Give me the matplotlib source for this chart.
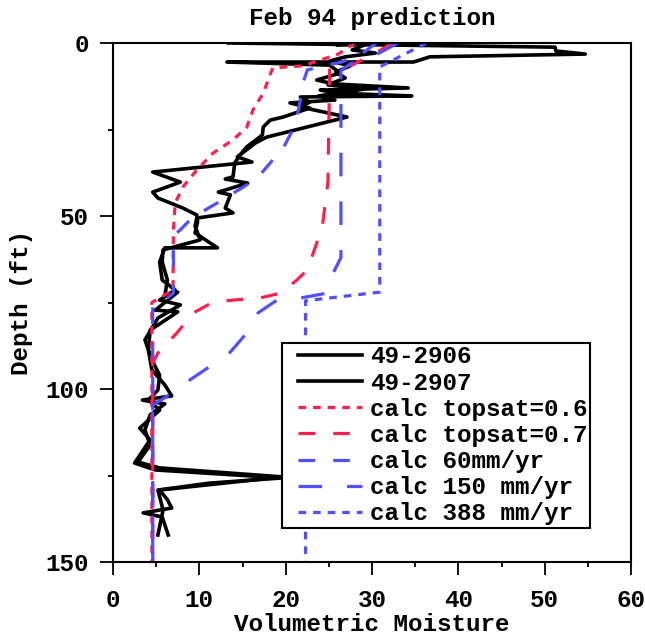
import matplotlib
matplotlib.use("Agg")
import matplotlib.pyplot as plt
from matplotlib.ticker import MultipleLocator
from matplotlib.lines import Line2D
from matplotlib.legend_handler import HandlerLine2D

plt.rcParams['font.family'] = ['Liberation Mono', 'DejaVu Sans Mono']
plt.rcParams['font.weight'] = 'bold'
plt.rcParams['lines.scale_dashes'] = False

red = '#ff1f4c'
blue = '#5050ff'

# measured profiles (moisture, depth ft)
m2906 = [13.4, 51.2, 51.3, 54.7, 36.7, 34.8, 13.2, 25.1, 26.3, 23.6, 25.5, 34.2, 24.0, 26.0,
         34.6, 21.7, 22.8, 21.7, 27.1, 17.8, 16.5, 14.4, 16.1, 4.6, 7.8, 4.6, 5.2, 8.1, 9.7,
         9.8, 9.5, 12.1, 6.0, 5.4, 5.7, 7.2, 5.4, 7.8, 5.2, 3.7, 4.5, 5.4, 5.2, 4.1, 5.4,
         3.1, 4.3, 2.5, 4.9, 19.6, 11.2, 5.2, 5.8, 5.2]
d2906 = [0.0, 1.2, 2.3, 3.2, 4.0, 5.5, 5.5, 6.4, 8.7, 10.7, 11.8, 13.0, 13.6, 14.5,
         15.3, 15.6, 17.1, 18.5, 21.4, 27.2, 28.9, 32.9, 34.4, 37.3, 40.2, 43.1, 44.8, 47.7, 49.7,
         51.7, 54.9, 59.2, 59.2, 63.3, 68.5, 71.4, 74.3, 75.7, 79.5, 85.8, 91.6, 96.0, 100.3, 103.2, 106.1,
         111.3, 114.7, 121.4, 123.4, 125.7, 127.2, 129.2, 135.0, 142.2]

m2907 = [26.0, 29.4, 27.7, 30.4, 26.9, 25.1, 27.5, 25.8, 26.9, 24.9, 29.2, 23.8, 25.7, 20.5,
         22.8, 19.7, 18.2, 17.4, 17.3, 15.5, 14.7, 14.1, 13.9, 13.0, 15.6, 12.2, 13.6, 13.0,
         13.9, 9.7, 9.5, 10.1, 5.8, 5.7, 6.3, 6.0, 7.5, 4.9, 7.5, 4.3, 4.1, 4.5, 6.0, 6.8,
         3.4, 6.0, 4.3, 3.7, 4.3, 2.9, 5.4, 19.6, 5.4, 6.3, 6.8, 3.5, 5.7, 6.4]
d2907 = [0.6, 0.3, 2.0, 2.9, 4.0, 5.2, 6.6, 8.4, 10.1, 12.1, 13.3, 15.3, 16.5, 17.3,
         18.8, 21.4, 22.3, 24.3, 26.6, 30.0, 32.4, 34.7, 38.7, 39.3, 40.5, 43.1, 43.9, 47.7,
         49.1, 50.6, 52.9, 56.9, 59.8, 63.3, 68.5, 73.1, 72.0, 77.2, 77.7, 83.0, 88.7, 94.5, 98.8, 102.0,
         103.2, 104.3, 107.5, 111.8, 116.2, 121.1, 122.8, 125.4, 129.2, 132.0, 134.4, 135.8, 137.0, 142.2]

# calculated profiles
m_top06 = [28.0, 26.1, 22.0, 18.5, 17.4, 16.2, 15.5, 13.9, 11.6, 9.7, 8.1, 7.2, 7.0, 6.95, 4.5, 4.5]
d_top06 = [0.0, 3.2, 6.6, 7.2, 14.5, 19.4, 24.3, 28.0, 31.8, 36.7, 41.6, 46.2, 54.0, 71.4, 75.0, 150.0]

m_top07 = [32.4, 30.6, 27.7, 25.1, 24.9, 24.3, 24.0, 22.5, 21.3, 19.4, 17.0, 13.9, 11.6, 9.3, 7.4, 5.2, 4.6, 4.6]
d_top07 = [0.0, 2.6, 6.4, 7.2, 40.0, 52.0, 55.0, 65.6, 68.5, 72.3, 73.7, 74.3, 74.9, 78.0, 83.8, 89.6, 92.5, 150.0]

m_60 = [30.5, 28.6, 26.5, 24.8, 22.5, 22.0, 21.7, 21.3, 20.7, 19.6, 18.5, 17.0, 15.5, 13.6, 12.1,
        10.1, 8.7, 8.0, 7.4, 7.0, 7.0, 6.3, 4.6, 4.6]
d_60 = [0.0, 3.5, 5.5, 6.4, 7.8, 11.6, 16.5, 21.4, 25.7, 30.9, 33.8, 38.2, 41.0, 43.9, 46.2,
        49.1, 51.7, 53.5, 54.9, 58.4, 72.3, 73.7, 75.7, 150.0]

m_150 = [33.0, 30.0, 27.5, 26.4, 26.4, 25.5, 24.8, 21.7, 19.0, 16.8, 15.5, 13.6, 11.5, 8.9, 7.0, 4.6, 4.6]
d_150 = [0.0, 4.0, 6.0, 8.0, 62.0, 66.5, 72.3, 73.7, 74.3, 78.0, 83.8, 89.3, 93.0, 97.4, 101.0, 104.6, 150.0]

m_388 = [36.3, 30.9, 30.9, 22.3, 22.3]
d_388 = [0.0, 6.9, 72.0, 74.5, 150.0]

fs = 17.5

fig = plt.figure(figsize=(6.45, 6.42), dpi=100)
ax = fig.add_axes([113/645, 1 - 562/642, 518/645, 519/642])

ax.plot(m2906, d2906, color='black', lw=2.6, label='49-2906')
ax.plot(m2907, d2907, color='black', lw=2.6, label='49-2907')
ax.plot(m_top06, d_top06, color=red, lw=2.3, dashes=(5.5, 5), label='calc topsat=0.6')
ax.plot(m_top07, d_top07, color=red, lw=2.3, dashes=(12, 13), label='calc topsat=0.7')
ax.plot(m_60, d_60, color=blue, lw=2.3, dashes=(12, 13), label='calc 60mm/yr')
ax.plot(m_150, d_150, color=blue, lw=2.3, dashes=(17, 18), label='calc 150 mm/yr')
ax.plot(m_388, d_388, color=blue, lw=2.3, dashes=(5.5, 5), label='calc 388 mm/yr')

ax.set_xlim(0, 60)
ax.set_ylim(150, 0)
ax.xaxis.set_major_locator(MultipleLocator(10))
ax.xaxis.set_minor_locator(MultipleLocator(5))
ax.yaxis.set_major_locator(MultipleLocator(50))
ax.yaxis.set_minor_locator(MultipleLocator(25))
ax.tick_params(which='major', direction='out', length=9.4, width=1.3, labelsize=fs)
ax.tick_params(which='minor', direction='out', length=3.6, width=1.3)
ax.tick_params(axis='x', which='major', pad=10)
ax.tick_params(axis='y', which='major', pad=8)
for s in ax.spines.values():
    s.set_linewidth(1.5)

ax.set_xlabel('Volumetric Moisture', fontsize=fs, fontweight='bold', labelpad=1)
ax.set_ylabel('Depth (ft)', fontsize=fs, fontweight='bold', labelpad=9)
ax.set_title('Feb 94 prediction', fontsize=fs, fontweight='bold', pad=13)

leg = ax.legend(loc='upper left', bbox_to_anchor=(282/645, 1 - 343/642),
                bbox_transform=fig.transFigure, borderaxespad=0, fontsize=fs,
                frameon=True, fancybox=False, handlelength=3.2, handletextpad=0.33,
                labelspacing=0.13, borderpad=0.1,
                handler_map={Line2D: HandlerLine2D(xpad=0.56)})
leg.get_frame().set_edgecolor('black')
leg.get_frame().set_linewidth(1.5)
leg.get_frame().set_alpha(1)

fig.savefig('out.png', dpi=100)
